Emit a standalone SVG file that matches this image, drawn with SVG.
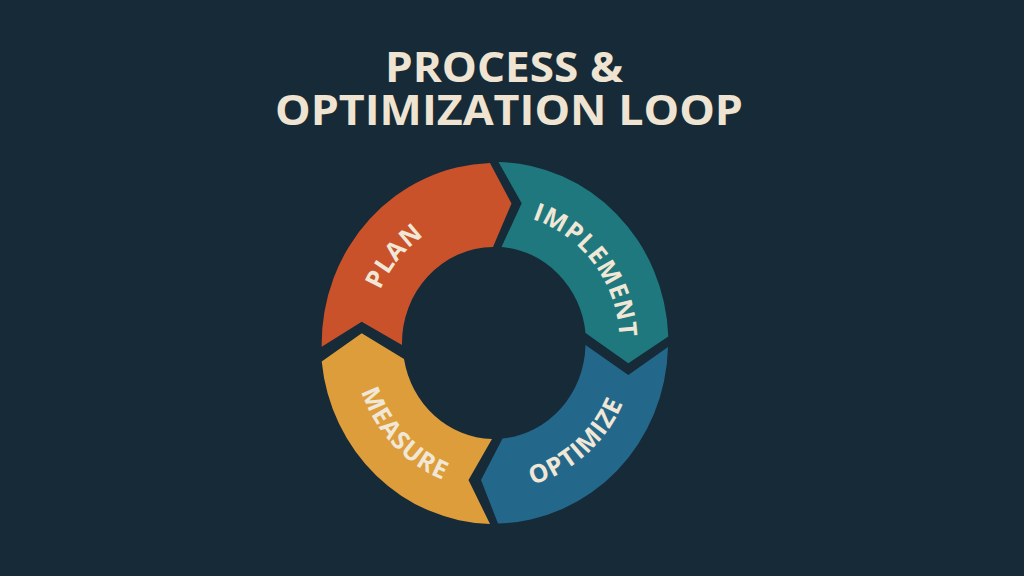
<svg xmlns="http://www.w3.org/2000/svg" width="1024" height="576" viewBox="0 0 1024 576">
  <defs>
    <style>
      .title { font-family: "Open Sans", "Liberation Sans", sans-serif; font-weight: 700; font-size: 41px; fill: #efe4d2; text-anchor: middle; }
      .label { font-family: "Open Sans", "Liberation Sans", sans-serif; font-weight: 700; font-size: 25px; fill: #f1e7d6; letter-spacing: 1px; text-anchor: middle; }
      .plan { fill: #c9522b; }
      .implement { fill: #1e787d; }
      .optimize { fill: #23678b; }
      .measure { fill: #dd9d3a; }
    </style>
    <path id="tp-plan" d="M397.36,424.81 A125,130 0 0 1 558.88,231.57"/>
    <path id="tp-implement" d="M435.82,228.22 A125,130 0 0 1 587.39,429.99"/>
    <path id="tp-optimize" d="M403.87,455.61 A141,147 0 0 0 616.61,269.5"/>
    <path id="tp-measure" d="M379.0,258.68 A141,147 0 0 0 575.37,463.42"/>
  </defs>

  <rect x="0" y="0" width="1024" height="576" fill="#162a37"/>

  <g id="title">
    <text class="title" x="504" y="82" textLength="238" lengthAdjust="spacingAndGlyphs">PROCESS &amp;</text>
    <text class="title" x="509" y="125" textLength="468" lengthAdjust="spacingAndGlyphs">OPTIMIZATION LOOP</text>
  </g>

  <g id="node-plan">
    <path class="plan" d="M321.7,346.7 A174,181 0 0 1 490,163 L511.5,203.5 L493,247 A92,96 0 0 0 402,345 L361.7,321.7 Z"/>
    <text class="label"><textPath href="#tp-plan" startOffset="50%">PLAN</textPath></text>
  </g>

  <g id="node-implement">
    <path class="implement" d="M498.5,162 A174,181 0 0 1 668.3,336.5 L628.3,363.3 L585.5,333 A92,96 0 0 0 501.5,247 L521.7,203.3 Z"/>
    <text class="label"><textPath href="#tp-implement" startOffset="50%">IMPLEMENT</textPath></text>
  </g>

  <g id="node-optimize">
    <path class="optimize" d="M668,347 A174,181 0 0 1 498,523.5 L481,480 L502.5,438.5 A92,96 0 0 0 585.5,345 L628.3,375 Z"/>
    <text class="label"><textPath href="#tp-optimize" startOffset="50%">OPTIMIZE</textPath></text>
  </g>

  <g id="node-measure">
    <path class="measure" d="M490,524 A174,181 0 0 1 321.7,361.5 L361.7,333.3 L404,359 A92,96 0 0 0 492,439 L468.5,480 Z"/>
    <text class="label"><textPath href="#tp-measure" startOffset="50%">MEASURE</textPath></text>
  </g>

  <g id="connectors"></g>
</svg>
